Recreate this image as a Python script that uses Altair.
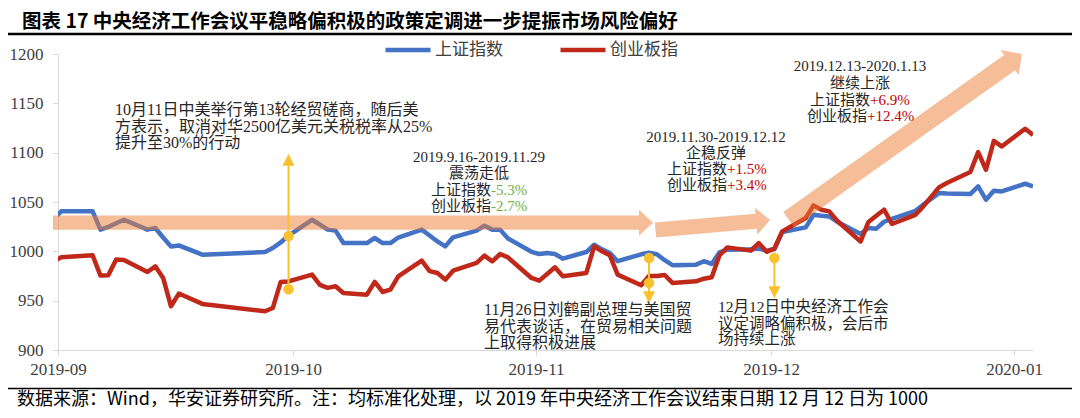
import altair as alt
import pandas as pd

# ---------------- data ----------------
dates = [
    "2019-09-11", "2019-09-12", "2019-09-16", "2019-09-17", "2019-09-18", "2019-09-19", "2019-09-20",
    "2019-09-23", "2019-09-24", "2019-09-25", "2019-09-26", "2019-09-27", "2019-09-30",
    "2019-10-08", "2019-10-09", "2019-10-10", "2019-10-11", "2019-10-14", "2019-10-15", "2019-10-16",
    "2019-10-17", "2019-10-18", "2019-10-21", "2019-10-22", "2019-10-23", "2019-10-24", "2019-10-25",
    "2019-10-28", "2019-10-29", "2019-10-30", "2019-10-31", "2019-11-01", "2019-11-04", "2019-11-05",
    "2019-11-06", "2019-11-07", "2019-11-08", "2019-11-11", "2019-11-12", "2019-11-13", "2019-11-14",
    "2019-11-15", "2019-11-18", "2019-11-19", "2019-11-20", "2019-11-21", "2019-11-22", "2019-11-25",
    "2019-11-26", "2019-11-27", "2019-11-28", "2019-11-29", "2019-12-02", "2019-12-03", "2019-12-04",
    "2019-12-05", "2019-12-06", "2019-12-09", "2019-12-10", "2019-12-11", "2019-12-12", "2019-12-13",
    "2019-12-16", "2019-12-17", "2019-12-18", "2019-12-19", "2019-12-20", "2019-12-23", "2019-12-24",
    "2019-12-25", "2019-12-26", "2019-12-27", "2019-12-30", "2019-12-31", "2020-01-02", "2020-01-03",
    "2020-01-06", "2020-01-07", "2020-01-08", "2020-01-09", "2020-01-10", "2020-01-13", "2020-01-14",
]
sh_index = [
    1033, 1040.5, 1040.5, 1022, 1024.7, 1028.5, 1032,
    1022, 1023.6, 1014, 1005, 1006, 996.6,
    999.3, 1003.4, 1009, 1016, 1032, 1027, 1022,
    1021, 1008.4, 1008.4, 1013.5, 1008.4, 1008.4, 1014,
    1022, 1016, 1010, 1005, 1014.2, 1021, 1026,
    1022, 1022, 1013, 999.5, 997.3, 998.3, 997.3,
    992.6, 999.3, 1006.7, 1002, 998.3, 990, 997,
    998.5, 997, 991, 986, 986.5, 990, 987.2,
    999, 1001.7, 1002, 1002.7, 1000.7, 1002, 1019.6,
    1024.3, 1037.1, 1036, 1035.4, 1030, 1017.6, 1023.7,
    1023, 1030, 1033, 1041, 1047.3, 1059, 1058.5,
    1058, 1065.8, 1052.3, 1061.4, 1060.7, 1068.5, 1065.8,
]
cyb_index = [
    990, 993.9, 996, 975.4, 975.7, 991.6, 991.2,
    979, 984.8, 973, 944.3, 957.2, 946.7,
    939.3, 942.6, 969, 969.5, 976.4, 966, 963,
    964.6, 957.8, 956.1, 969, 958.8, 961.2, 974.7,
    990.6, 980, 978, 971.3, 980.4, 988.2, 995.6,
    989.9, 997.3, 993.9, 973, 970.3, 977, 983.8,
    974.7, 978.1, 1005, 1000, 996, 976.4, 965.6,
    975, 975, 976, 968, 969.6, 972.3, 973.7,
    996, 1004, 1000.7, 1008.4, 999.5, 1003, 1020.2,
    1033.8, 1046.6, 1042.2, 1040.5, 1031, 1010, 1029.8,
    1036, 1042.2, 1027.7, 1037, 1045.5, 1064.8, 1069.2,
    1080.4, 1100.6, 1082.7, 1112, 1106.3, 1124.2, 1118,
]
series_names = ["上证指数", "创业板指"]
series_colors = ["#4472C4", "#C0281A"]

y_ticks = [900, 950, 1000, 1050, 1100, 1150, 1200]
x_tick_times = ["2019-09-11T14:00:00Z", "2019-10-11T14:00:00Z", "2019-11-11T14:00:00Z",
                "2019-12-11T14:00:00Z", "2020-01-11T14:00:00Z"]
x_range = ["2019-09-11T14:00:00Z", "2020-01-14T00:00:00Z"]

# event markers (yellow)
event_dates = ["2019-10-11", "2019-11-26", "2019-12-12"]
event_rule_low = [961.5, 958, 963]
event_rule_high = [1088, 993, 993]
event_dot_dates = ["2019-10-11", "2019-10-11", "2019-11-26", "2019-11-26", "2019-12-12"]
event_dot_values = [1015.5, 961.5, 993.3, 968, 993.3]
event_tri_values = [1092.7, 953.4, 958.5]
event_tri_dirs = ["up", "down", "down"]

# big orange trend arrows
arrow_mid_times = ["2019-10-19T05:30:00Z", "2019-12-04T03:20:00Z", "2019-12-28T17:00:00Z"]
arrow_mid_values = [1029.0, 1026.7, 1116.1]
arrow_lengths = [600, 115, 286]
arrow_shaft_widths = [14.3, 15, 19]
arrow_head_widths = [26, 27, 31]
arrow_head_lengths = [14, 14, 15]
arrow_angles = [0, 355, 324.6]

title_text = "图表 17  中央经济工作会议平稳略偏积极的政策定调进一步提振市场风险偏好"
footer_text = "数据来源：Wind，华安证券研究所。注：均标准化处理，以 2019 年中央经济工作会议结束日期 12 月 12 日为 1000"

# annotation text rows: (x, y, text, colour, align, size) in px relative to the plot origin
DK = "#262626"
GR = "#70AD47"
RD = "#C00000"
annotations = [
    (57, 56, "10月11日中美举行第13轮经贸磋商，随后美", DK, "left", 16),
    (57, 73, "方表示，取消对华2500亿美元关税税率从25%", DK, "left", 16),
    (57, 89, "提升至30%的行动", DK, "left", 16),
    (421, 103, "2019.9.16-2019.11.29", DK, "center", 15),
    (421, 119, "震荡走低", DK, "center", 15),
    (433, 136, "上证指数", DK, "right", 15),
    (433, 136, "-5.3%", GR, "left", 15),
    (433, 152, "创业板指", DK, "right", 15),
    (433, 152, "-2.7%", GR, "left", 15),
    (658, 83, "2019.11.30-2019.12.12", DK, "center", 15),
    (658, 99, "企稳反弹", DK, "center", 15),
    (669, 115, "上证指数", DK, "right", 15),
    (669, 115, "+1.5%", RD, "left", 15),
    (669, 131, "创业板指", DK, "right", 15),
    (669, 131, "+3.4%", RD, "left", 15),
    (802, 12, "2019.12.13-2020.1.13", DK, "center", 15),
    (802, 29, "继续上涨", DK, "center", 15),
    (812, 46, "上证指数", DK, "right", 15),
    (812, 46, "+6.9%", RD, "left", 15),
    (809, 62, "创业板指", DK, "right", 15),
    (809, 62, "+12.4%", RD, "left", 15),
    (426, 256, "11月26日刘鹤副总理与美国贸", DK, "left", 16),
    (426, 273, "易代表谈话，在贸易相关问题", DK, "left", 16),
    (426, 289, "上取得积极进展", DK, "left", 16),
    (660, 253, "12月12日中央经济工作会", DK, "left", 15.5),
    (660, 270, "议定调略偏积极，会后市", DK, "left", 15.5),
    (660, 285, "场持续上涨", DK, "left", 15.5),
]


def ms(s):
    t = pd.Timestamp(s)
    if t.tzinfo is None:
        t = t.tz_localize("UTC")
    return int(t.value // 1_000_000)


def arrow_path(L, w, hw, hl):
    u = L / 2.0
    xb = 1 - hl / u
    sy = w / 2.0 / u
    hy = hw / 2.0 / u
    return (f"M-1,{-sy:.4f}L{xb:.4f},{-sy:.4f}L{xb:.4f},{-hy:.4f}L1,0"
            f"L{xb:.4f},{hy:.4f}L{xb:.4f},{sy:.4f}L-1,{sy:.4f}Z")


TRI = {"up": "M-1,1L1,1L0,-1Z", "down": "M-1,-1L1,-1L0,1Z"}
SERIF = "Liberation Serif, Noto Sans CJK SC"
CJK = "Noto Sans CJK SC"

xs = alt.Scale(type="utc", domain=[ms(x_range[0]), ms(x_range[1])])
ys = alt.Scale(domain=[900, 1200], nice=False, zero=False)

n = len(dates)
line_df = pd.DataFrame({
    "date": dates * 2,
    "value": sh_index + cyb_index,
    "series": [series_names[0]] * n + [series_names[1]] * n,
})

lines = alt.Chart(line_df).mark_line(strokeWidth=4.5, strokeJoin="round", clip=True).encode(
    x=alt.X("date:T", scale=xs, axis=alt.Axis(
        values=[ms(t) for t in x_tick_times], labelExpr="utcFormat(datum.value, '%Y-%m')",
        title=None, grid=False, domainColor="#D9D9D9", domainWidth=1, tickColor="#D9D9D9",
        tickSize=5, labelFont="Liberation Serif", labelFontSize=17, labelColor="#404040",
        labelPadding=6, labelAngle=0, labelFlush=False, labelOverlap=False)),
    y=alt.Y("value:Q", scale=ys, axis=alt.Axis(
        values=y_ticks, format="d", title=None, grid=False, domainColor="#D9D9D9", domainWidth=1,
        tickColor="#D9D9D9", tickSize=5, labelFont="Liberation Serif", labelFontSize=17,
        labelColor="#404040", labelPadding=10)),
    color=alt.Color("series:N", scale=alt.Scale(domain=series_names, range=series_colors),
                    sort=series_names,
                    legend=alt.Legend(title=None, orient="none", legendX=325, legendY=-29,
                                      direction="horizontal", symbolType="stroke",
                                      symbolSize=2025, symbolStrokeWidth=4.5,
                                      labelFont=CJK, labelFontSize=17, labelColor="#404040",
                                      labelOffset=2, columnPadding=48, padding=0)),
)

arrow_df = pd.DataFrame({
    "date": arrow_mid_times,
    "value": arrow_mid_values,
    "shape": [arrow_path(L, w, hw, hl) for L, w, hw, hl in
              zip(arrow_lengths, arrow_shaft_widths, arrow_head_widths, arrow_head_lengths)],
    "size": [L * L for L in arrow_lengths],
    "angle": arrow_angles,
})
arrows = alt.Chart(arrow_df).mark_point(filled=True, color="#ED7D31", opacity=0.5, strokeWidth=0).encode(
    x=alt.X("date:T", scale=xs),
    y=alt.Y("value:Q", scale=ys),
    shape=alt.Shape("shape:N", scale=None),
    size=alt.Size("size:Q", scale=None),
    angle=alt.Angle("angle:Q", scale=None),
)

YEL = "#FAC12E"
rule_df = pd.DataFrame({"date": event_dates, "lo": event_rule_low, "hi": event_rule_high})
ev_rules = alt.Chart(rule_df).mark_rule(color=YEL, strokeWidth=2).encode(
    x=alt.X("date:T", scale=xs),
    y=alt.Y("lo:Q", scale=ys),
    y2="hi:Q",
)
tri_df = pd.DataFrame({"date": event_dates, "value": event_tri_values,
                       "shape": [TRI[d] for d in event_tri_dirs]})
ev_tris = alt.Chart(tri_df).mark_point(filled=True, color=YEL, opacity=1, size=144, strokeWidth=0).encode(
    x=alt.X("date:T", scale=xs),
    y=alt.Y("value:Q", scale=ys),
    shape=alt.Shape("shape:N", scale=None),
)
dot_df = pd.DataFrame({"date": event_dot_dates, "value": event_dot_values})
ev_dots = alt.Chart(dot_df).mark_circle(color=YEL, opacity=1, size=110).encode(
    x=alt.X("date:T", scale=xs),
    y=alt.Y("value:Q", scale=ys),
)

one = pd.DataFrame({"k": [0]})


def txt(x, y, text, color, align, size, font=SERIF, weight="normal"):
    return alt.Chart(one).mark_text(
        text=text, align=align, baseline="middle", font=font, fontSize=size,
        fontWeight=weight, color=color,
    ).encode(x=alt.value(x), y=alt.value(y))


text_layers = [txt(x, y, t, c, a, s) for (x, y, t, c, a, s) in annotations]
text_layers.append(txt(-36, -32.5, title_text, "#000000", "left", 19.5, CJK, "bold"))
text_layers.append(txt(-41, 346, footer_text, "#000000", "left", 18, CJK))

top_rule = alt.Chart(one).mark_rule(color="#000000", strokeWidth=2.5).encode(
    x=alt.value(-53), x2=alt.value(1014), y=alt.value(-20))
bottom_rule = alt.Chart(one).mark_rule(color="#000000", strokeWidth=1.5).encode(
    x=alt.value(-53), x2=alt.value(1014), y=alt.value(334.5))

chart = alt.layer(
    lines, arrows, ev_rules, ev_tris, ev_dots, *text_layers, top_rule, bottom_rule,
).properties(
    width=975, height=296,
    autosize=alt.AutoSizeParams(type="none"),
    padding={"left": 50, "top": 46, "right": 39, "bottom": 60},
    background="white",
).configure_view(stroke=None)

chart.save("out.html", embed_options={"renderer": "svg", "actions": False})
